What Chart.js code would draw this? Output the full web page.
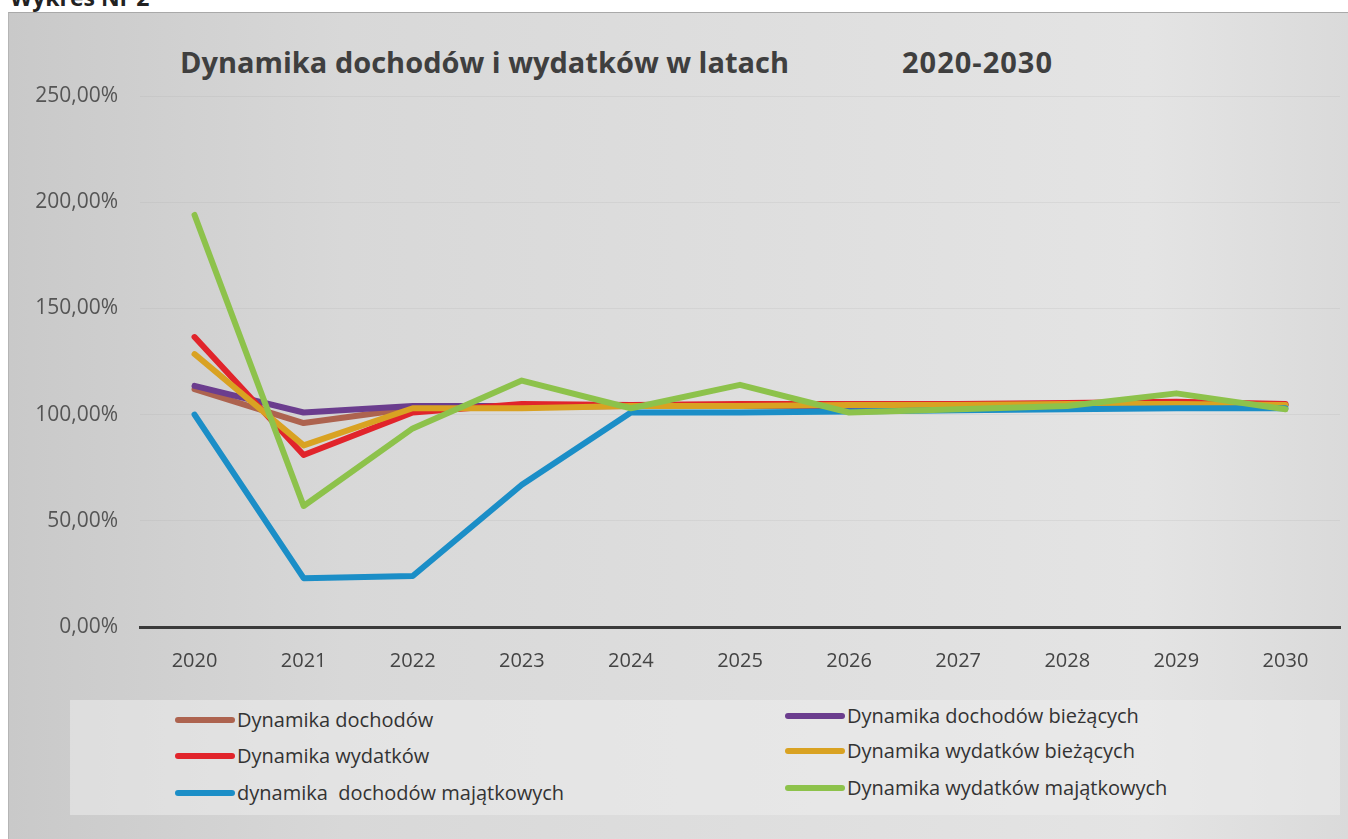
<!DOCTYPE html>
<html lang="pl">
<head>
<meta charset="UTF-8" />
<title>Dynamika dochodów i wydatków</title>
<script src="https://cdn.jsdelivr.net/npm/chart.js"></script>
<style>
    body { margin: 0; width: 1348px; height: 839px; overflow: hidden; background: #fff; font-family: "Open Sans", sans-serif; position: relative; }
    .naglowek { position: absolute; left: 10px; top: -19px; font: bold 23px "Open Sans", sans-serif; color: #222; }
    .ramka {
        position: absolute; left: 8px; top: 12px; width: 1340px; height: 827px;
        border-top: 1px solid #a9a9a9; border-left: 1px solid #b5b5b5;
        background: linear-gradient(90deg, #c9c9c9 0%, #d8d8d8 25%, #dedede 55%, #e4e4e4 85%, #dadada 100%);
    }
    .tytul { position: absolute; left: 180px; top: 42px; font: bold 29px "Open Sans", sans-serif; color: #3f3f3f; white-space: nowrap; }
    .tytul span { position: absolute; left: 722px; letter-spacing: 1px; }
    .wykres { position: absolute; left: 8px; top: 12px; width: 1340px; height: 656px; }
    .legenda { position: absolute; left: 70px; top: 700px; width: 1270px; height: 115px; background: rgba(236,236,236,0.55); }
    .poz { position: absolute; display: flex; align-items: center; font-size: 20px; color: #333; white-space: pre; }
    .poz i { display: inline-block; width: 60px; height: 6px; border-radius: 3px; margin-right: 2px; }
</style>
</head>
<body>
    <div class="naglowek">Wykres Nr 2</div>
    <div class="ramka"></div>
    <div class="tytul">Dynamika dochodów i wydatków w latach<span>2020-2030</span></div>
    <div class="wykres"><canvas id="myChart"></canvas></div>
    <div class="legenda" id="legenda"></div>

<script>
    // lata na osi X
    const lata = ['2020', '2021', '2022', '2023', '2024', '2025', '2026', '2027', '2028', '2029', '2030'];

    // wartosci w %
    const dochody = [112, 96, 103, 103.5, 104, 104, 104.5, 104.5, 105, 105, 104.5];
    const dochodyBiezace = [113.5, 101, 104, 104, 104, 104, 104, 104.5, 105, 105, 104.5];
    const wydatki = [136.5, 81, 101, 105, 104.5, 105, 105, 105, 105.5, 106, 105];
    const wydatkiBiezace = [128.5, 85.5, 103, 103, 104, 104, 104.5, 104.5, 105, 105, 104.5];
    const dochodyMajatkowe = [100, 23, 24, 67, 101, 101, 101.5, 102, 102.5, 103, 103];
    const wydatkiMajatkowe = [194, 57, 93.5, 116, 103, 114, 101, 102.5, 104, 110, 102.5];

    // znaczniki osi Y
    const osY = [0, 50, 100, 150, 200, 250];

    function seria(nazwa, dane, kolor, kolejnosc) {
        return {
            label: nazwa,
            data: dane,
            borderColor: kolor,
            backgroundColor: kolor,
            borderWidth: 6,
            borderCapStyle: 'round',
            borderJoinStyle: 'round',
            pointRadius: 0,
            tension: 0,
            fill: false,
            order: kolejnosc
        };
    }

    const dane = {
        labels: lata,
        datasets: [
            seria('Dynamika dochodów', dochody, '#ad634f', 5),
            seria('Dynamika dochodów bieżących', dochodyBiezace, '#6b3d8e', 4),
            seria('Dynamika wydatków', wydatki, '#e1242b', 3),
            seria('Dynamika wydatków bieżących', wydatkiBiezace, '#d9a222', 2),
            seria('dynamika  dochodów majątkowych', dochodyMajatkowe, '#1b8ec7', 1),
            seria('Dynamika wydatków majątkowych', wydatkiMajatkowe, '#8dc24b', 0)
        ]
    };

    const config = {
        type: 'line',
        data: dane,
        options: {
            responsive: true,
            maintainAspectRatio: false,
            animation: false,
            devicePixelRatio: 1,
            layout: { padding: { top: 84, right: 8, bottom: 0, left: 0 } },
            plugins: { legend: { display: false }, title: { display: false }, tooltip: { enabled: false } },
            scales: {
                x: {
                    offset: true,
                    grid: { display: false },
                    border: { display: true, color: '#3a3a3a', width: 3 },
                    ticks: { color: '#444', padding: 14, font: { family: 'Open Sans', size: 20 } },
                    afterFit: function (s) { s.height = 41; }
                },
                y: {
                    min: 0,
                    max: 250,
                    afterBuildTicks: function (s) { s.ticks = osY.map(v => ({ value: v })); },
                    grid: {
                        drawTicks: false,
                        color: function (c) { return c.tick.value === 0 ? 'rgba(0,0,0,0)' : 'rgba(150,150,150,0.13)'; },
                        lineWidth: 1
                    },
                    border: { display: false },
                    ticks: {
                        color: '#555',
                        padding: 22,
                        font: { family: 'Open Sans', size: 21 },
                        callback: function (v) { return v.toFixed(2).replace('.', ',') + '%'; }
                    },
                    afterFit: function (s) { s.width = 132; }
                }
            }
        }
    };

    let myChart = new Chart(document.getElementById('myChart'), config);

    // legenda w dwoch kolumnach, jak w oryginale
    const pozycje = [
        { i: 0, x: 105, y: 20 }, { i: 2, x: 105, y: 56 }, { i: 4, x: 105, y: 93 },
        { i: 1, x: 715, y: 16 }, { i: 3, x: 715, y: 51 }, { i: 5, x: 715, y: 88 }
    ];
    const legenda = document.getElementById('legenda');
    pozycje.forEach(function (p) {
        const ds = myChart.data.datasets[p.i];
        const el = document.createElement('div');
        el.className = 'poz';
        el.style.left = p.x + 'px';
        el.style.top = (p.y - 14) + 'px';
        el.innerHTML = '<i style="background:' + ds.borderColor + '"></i>' + ds.label;
        legenda.appendChild(el);
    });
</script>
</body>
</html>
